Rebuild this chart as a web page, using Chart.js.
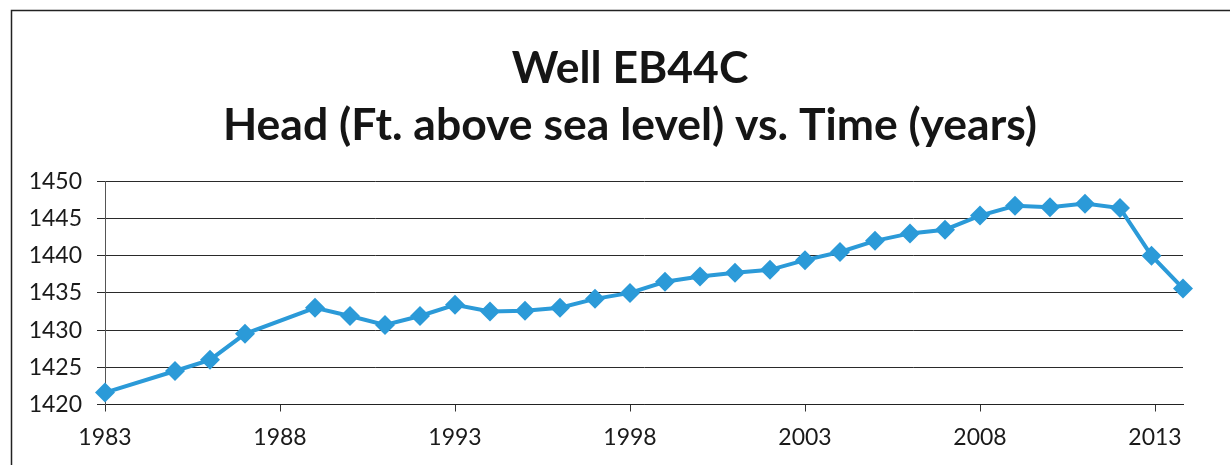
<!DOCTYPE html>
<html>
<head>
<meta charset="utf-8">
<script src="https://cdn.jsdelivr.net/npm/chart.js@4.4.1/dist/chart.umd.min.js"></script>
<style>
  html, body { margin: 0; padding: 0; background: #ffffff; }
  #wrap { width: 1230px; height: 465px; position: relative; }
</style>
</head>
<body>
<div id="wrap"><canvas id="c" width="1230" height="465"></canvas></div>
<script>
const titleLines = ['Well EB44C', 'Head (Ft. above sea level) vs. Time (years)'];
const years = [1983, 1985, 1986, 1987, 1989, 1990, 1991, 1992, 1993, 1994, 1995, 1996, 1997, 1998, 1999,
               2000, 2001, 2002, 2003, 2004, 2005, 2006, 2007, 2008, 2009, 2010, 2011, 2012, 2012.9, 2013.8];
const heads = [1421.6, 1424.5, 1426.0, 1429.5, 1433.0, 1431.9, 1430.7, 1431.9, 1433.4, 1432.5, 1432.6, 1433.0, 1434.2, 1435.0, 1436.5,
               1437.2, 1437.7, 1438.1, 1439.4, 1440.5, 1442.0, 1443.0, 1443.5, 1445.4, 1446.7, 1446.5, 1447.0, 1446.4, 1440.0, 1435.6];
const xTicks = [1983, 1988, 1993, 1998, 2003, 2008, 2013];
const yTicks = [1420, 1425, 1430, 1435, 1440, 1445, 1450];

const framePlugin = {
  id: 'frame',
  afterLayout(chart) {
    const t = chart.titleBlock;
    if (t) { t.left = 77; t.right = 1183; t.width = t.right - t.left; }
  },
  afterDraw(chart) {
    const ctx = chart.ctx;
    ctx.save();
    ctx.strokeStyle = '#222';
    ctx.lineWidth = 1.5;
    ctx.beginPath();
    ctx.moveTo(11.5, 465);
    ctx.lineTo(11.5, 10.5);
    ctx.lineTo(1230, 10.5);
    ctx.stroke();
    ctx.restore();
  }
};

new Chart(document.getElementById('c'), {
  type: 'line',
  data: {
    datasets: [{
      data: years.map((y, i) => ({ x: y, y: heads[i] })),
      borderColor: '#2b9ad8',
      backgroundColor: '#2b9ad8',
      borderWidth: 4,
      pointStyle: 'rectRot',
      pointRadius: 10,
      pointHoverRadius: 10,
      pointBorderWidth: 0,
      tension: 0,
      clip: false
    }]
  },
  options: {
    responsive: false,
    animation: false,
    events: [],
    layout: { padding: { left: 0, right: 47, top: 0, bottom: 0 } },
    plugins: {
      legend: { display: false },
      tooltip: { enabled: false },
      title: {
        display: true,
        text: titleLines,
        color: '#151515',
        font: { family: 'Lato', size: 44.5, weight: 'bold', lineHeight: 1.29 },
        padding: { top: 39.5, bottom: 27 }
      }
    },
    scales: {
      x: {
        type: 'linear',
        min: 1983,
        max: 2013.8,
        afterBuildTicks: (s) => { s.ticks = xTicks.map(v => ({ value: v })); },
        afterFit: (s) => { s.height = 60.5; },
        ticks: {
          color: '#1a1a1a',
          font: { family: 'Lato', size: 23 },
          padding: 12,
          maxRotation: 0,
          autoSkip: false,
          callback: (v) => String(v)
        },
        grid: { drawOnChartArea: false, drawTicks: true, tickLength: 7, color: '#333', lineWidth: 1 },
        border: { display: true, color: '#222', width: 1 }
      },
      y: {
        min: 1420,
        max: 1450,
        afterBuildTicks: (s) => { s.ticks = yTicks.map(v => ({ value: v })); },
        afterFit: (s) => { s.width = 105; },
        ticks: {
          color: '#1a1a1a',
          font: { family: 'Lato', size: 23 },
          padding: 15,
          callback: (v) => String(v)
        },
        grid: { color: '#2a2a2a', lineWidth: 1, tickLength: 8 },
        border: { display: true, color: '#555', width: 1 }
      }
    }
  },
  plugins: [framePlugin]
});
</script>
</body>
</html>
